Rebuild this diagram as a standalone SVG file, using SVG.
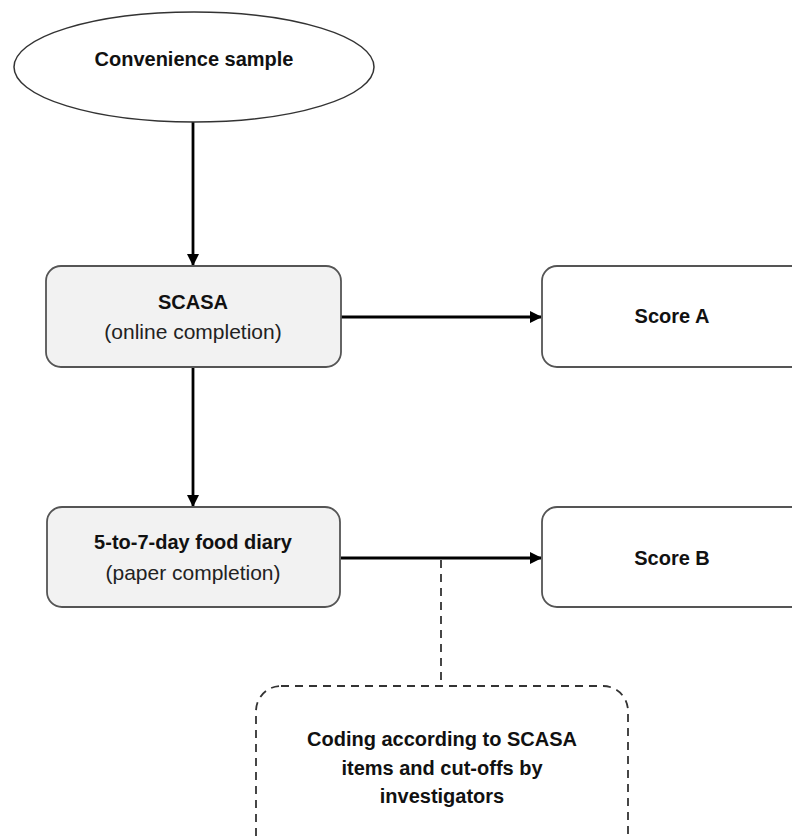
<svg xmlns="http://www.w3.org/2000/svg" width="792" height="836" viewBox="0 0 792 836">
<defs>
<marker id="arr" markerWidth="12" markerHeight="12" refX="11" refY="6" orient="auto" markerUnits="userSpaceOnUse">
<path d="M0,0 L12,6 L0,12 Z" fill="#000"/>
</marker>
<style>
.b{font-family:"Liberation Sans",Arial,sans-serif;font-weight:bold;font-size:20px;fill:#111;text-anchor:middle}
.r{font-family:"Liberation Sans",Arial,sans-serif;font-size:21px;fill:#222;text-anchor:middle}
.grey{fill:#f2f2f2;stroke:#555;stroke-width:1.8}
.white{fill:#fff;stroke:#555;stroke-width:1.8}
.conn{stroke:#000;stroke-width:2.8;fill:none}
.dash{stroke:#333;stroke-width:1.8;fill:none;stroke-dasharray:8,6}
</style>
</defs>
<rect width="792" height="836" fill="#fff"/>
<g id="connectors">
<line class="conn" x1="193" y1="122" x2="193" y2="265" marker-end="url(#arr)"/>
<line class="conn" x1="341" y1="317" x2="541" y2="317" marker-end="url(#arr)"/>
<line class="conn" x1="193" y1="367" x2="193" y2="506" marker-end="url(#arr)"/>
<line class="conn" x1="341" y1="558" x2="541" y2="558" marker-end="url(#arr)"/>
<line class="dash" x1="441" y1="560" x2="441" y2="686"/>
</g>
<g id="convenience">
<ellipse cx="194" cy="67" rx="180" ry="55" fill="#fff" stroke="#333" stroke-width="1.5"/>
<text class="b" x="194" y="66">Convenience sample</text>
</g>
<g id="scasa">
<rect class="grey" x="46" y="266" width="295" height="101" rx="15"/>
<text class="b" x="193" y="309">SCASA</text>
<text class="r" x="193" y="339">(online completion)</text>
</g>
<g id="scoreA">
<rect class="white" x="542" y="266" width="270" height="101" rx="15"/>
<text class="b" x="672" y="323">Score A</text>
</g>
<g id="diary">
<rect class="grey" x="47" y="507" width="293" height="100" rx="15"/>
<text class="b" x="193" y="549">5-to-7-day food diary</text>
<text class="r" x="193" y="580">(paper completion)</text>
</g>
<g id="scoreB">
<rect class="white" x="542" y="507" width="270" height="100" rx="15"/>
<text class="b" x="672" y="565">Score B</text>
</g>
<g id="coding">
<rect class="dash" x="256" y="686" width="372" height="180" rx="25"/>
<text class="b" x="442" y="746">Coding according to SCASA</text>
<text class="b" x="442" y="775">items and cut-offs by</text>
<text class="b" x="442" y="803">investigators</text>
</g>
</svg>
